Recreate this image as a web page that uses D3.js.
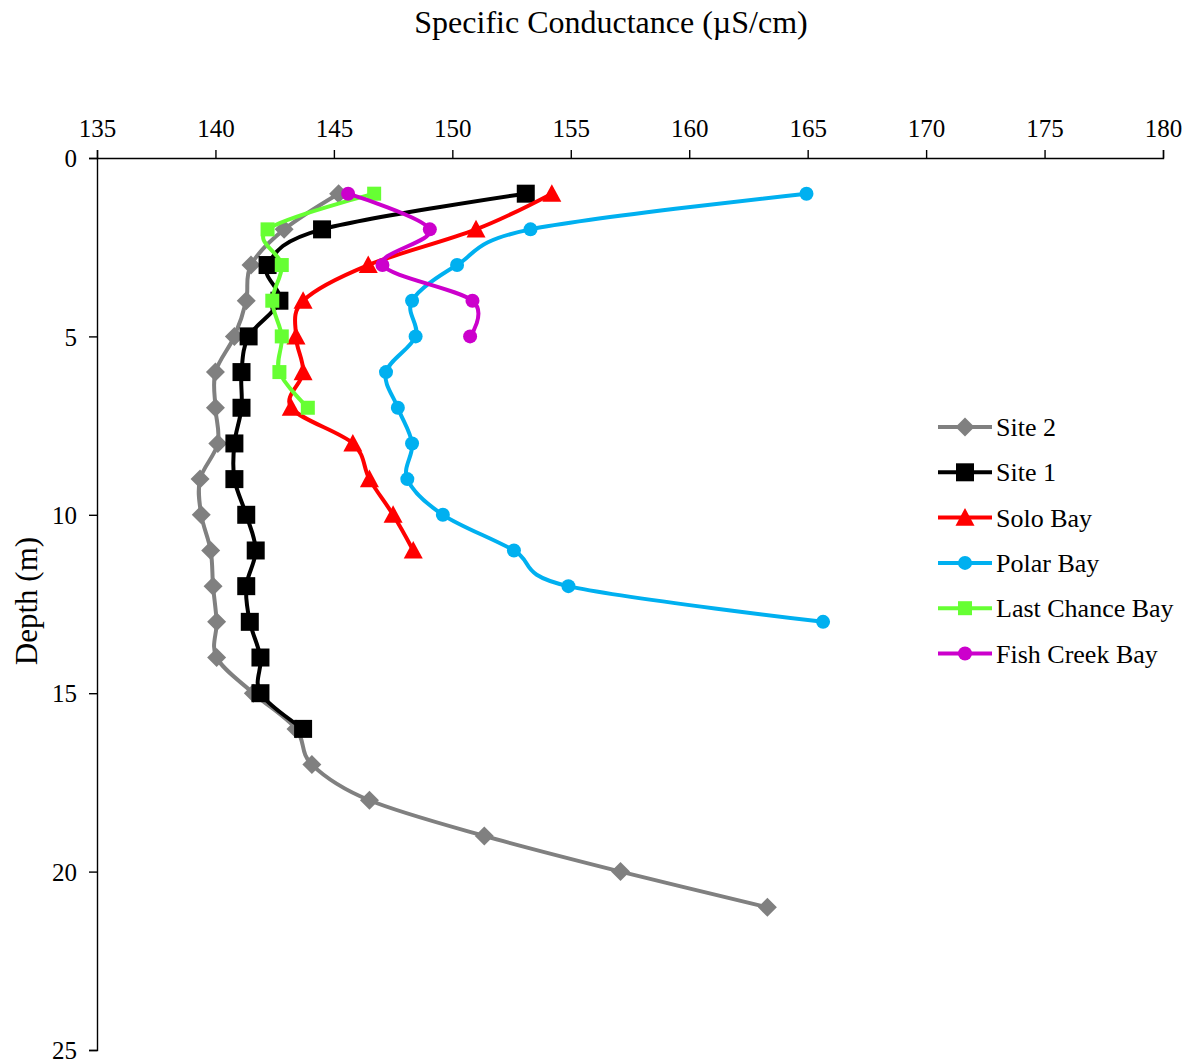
<!DOCTYPE html>
<html>
<head>
<meta charset="utf-8">
<script src="https://cdn.jsdelivr.net/npm/d3@7"></script>
<style>
  html, body { margin: 0; padding: 0; background: #fff; }
  svg { display: block; }
  text { font-family: "Liberation Serif", "Times New Roman", serif; fill: #000; }
</style>
</head>
<body>
<svg id="chart" width="1194" height="1064"></svg>
<script>
// Specific conductance profiles (µS/cm) by depth (m)
const xTicks = [135, 140, 145, 150, 155, 160, 165, 170, 175, 180];
const yTicks = [0, 5, 10, 15, 20, 25];

const site2Depth = [1, 2, 3, 4, 5, 6, 7, 8, 9, 10, 11, 12, 13, 14, 15, 16, 17, 18, 19, 20, 21];
const site2Cond  = [145.2, 142.9, 141.5, 141.3, 140.8, 140.0, 140.0, 140.1, 139.35, 139.4, 139.8, 139.9, 140.05, 140.05, 141.6, 143.4, 144.07, 146.5, 151.35, 157.1, 163.3];

const site1Depth = [1, 2, 3, 4, 5, 6, 7, 8, 9, 10, 11, 12, 13, 14, 15, 16];
const site1Cond  = [153.1, 144.5, 142.2, 142.7, 141.4, 141.1, 141.1, 140.8, 140.8, 141.3, 141.7, 141.3, 141.45, 141.9, 141.9, 143.7];

const soloDepth = [1, 2, 3, 4, 5, 6, 7, 8, 9, 10, 11];
const soloCond  = [154.2, 151.0, 146.45, 143.7, 143.4, 143.7, 143.2, 145.8, 146.5, 147.5, 148.35];

const polarDepth = [1, 2, 3, 4, 5, 6, 7, 8, 9, 10, 11, 12, 13];
const polarCond  = [164.95, 153.3, 150.2, 148.3, 148.45, 147.2, 147.7, 148.3, 148.1, 149.6, 152.6, 154.9, 165.65];

const lastChanceDepth = [1, 2, 3, 4, 5, 6, 7];
const lastChanceCond  = [146.7, 142.2, 142.8, 142.4, 142.8, 142.7, 143.9];

const fishCreekDepth = [1, 2, 3, 4, 5];
const fishCreekCond  = [145.6, 149.05, 147.05, 150.85, 150.75];

const seriesNames = ["Site 2", "Site 1", "Solo Bay", "Polar Bay", "Last Chance Bay", "Fish Creek Bay"];

const series = [
  { name: seriesNames[0], depth: site2Depth, cond: site2Cond, color: "#808080", marker: "diamond", size: 19 },
  { name: seriesNames[1], depth: site1Depth, cond: site1Cond, color: "#000000", marker: "square", size: 18 },
  { name: seriesNames[2], depth: soloDepth, cond: soloCond, color: "#FF0000", marker: "triangle", size: 19 },
  { name: seriesNames[3], depth: polarDepth, cond: polarCond, color: "#00B0F0", marker: "circle", size: 14 },
  { name: seriesNames[4], depth: lastChanceDepth, cond: lastChanceCond, color: "#66FF33", marker: "square", size: 14 },
  { name: seriesNames[5], depth: fishCreekDepth, cond: fishCreekCond, color: "#CC00CC", marker: "circle", size: 14 }
];

const svg = d3.select("#chart");
const plot = { left: 97, right: 1163, top: 158, bottom: 1050 };

const x = d3.scaleLinear().domain([135, 180]).range([plot.left, plot.right]);
const y = d3.scaleLinear().domain([0, 25]).range([plot.top, plot.bottom]);

// Axes: conductance along the top, depth increasing downward
const xAxis = svg.append("g")
  .attr("transform", `translate(0,${plot.top})`)
  .call(d3.axisTop(x).tickValues(xTicks).tickSize(8).tickPadding(13).tickFormat(d3.format("d")));
const yAxis = svg.append("g")
  .attr("transform", `translate(${plot.left},0)`)
  .call(d3.axisLeft(y).tickValues(yTicks).tickSize(8).tickPadding(12).tickFormat(d3.format("d")));

[xAxis, yAxis].forEach(g => {
  g.select(".domain").attr("stroke", "#000").attr("stroke-width", 1.4);
  g.selectAll(".tick line").attr("stroke", "#000").attr("stroke-width", 1.4);
  g.selectAll(".tick text")
    .style("font-family", "'Liberation Serif', 'Times New Roman', serif")
    .style("font-size", "25px").attr("fill", "#000");
});
yAxis.selectAll(".tick text").attr("dy", "0.35em");

// Axis titles
svg.append("text")
  .attr("x", 611).attr("y", 33)
  .attr("text-anchor", "middle")
  .style("font-size", "32px")
  .text("Specific Conductance  (µS/cm)");

svg.append("text")
  .attr("transform", "translate(37,601) rotate(-90)")
  .attr("text-anchor", "middle")
  .style("font-size", "31px")
  .text("Depth (m)");

// Marker shapes
function markerPath(type, size) {
  const h = size / 2;
  switch (type) {
    case "diamond": return `M0,${-h}L${h},0L0,${h}L${-h},0Z`;
    case "square": return `M${-h},${-h}H${h}V${h}H${-h}Z`;
    case "triangle": return `M0,${-h}L${h},${h * 0.85}H${-h}Z`;
    default: return d3.symbol().type(d3.symbolCircle).size(Math.PI * h * h)();
  }
}

const line = d3.line()
  .x(d => x(d.c))
  .y(d => y(d.d))
  .curve(d3.curveCatmullRom.alpha(0));

const plotG = svg.append("g");
series.forEach(s => {
  const pts = s.depth.map((d, i) => ({ d, c: s.cond[i] }));
  const g = plotG.append("g");
  g.append("path")
    .datum(pts)
    .attr("d", line)
    .attr("fill", "none")
    .attr("stroke", s.color)
    .attr("stroke-width", 4)
    .attr("stroke-linejoin", "round");
  g.selectAll("path.mk")
    .data(pts)
    .join("path")
    .attr("class", "mk")
    .attr("transform", d => `translate(${x(d.c)},${y(d.d)})`)
    .attr("d", markerPath(s.marker, s.size))
    .attr("fill", s.color);
});

// Legend
const legend = svg.append("g").attr("transform", "translate(938,427)");
series.forEach((s, i) => {
  const row = legend.append("g").attr("transform", `translate(0,${i * 45.3})`);
  row.append("line")
    .attr("x1", 0).attr("x2", 54).attr("y1", 0).attr("y2", 0)
    .attr("stroke", s.color).attr("stroke-width", 4);
  row.append("path")
    .attr("transform", "translate(27,0)")
    .attr("d", markerPath(s.marker, s.size))
    .attr("fill", s.color);
  row.append("text")
    .attr("x", 58).attr("y", 0).attr("dy", "0.35em")
    .style("font-size", "26px")
    .text(s.name);
});
</script>
</body>
</html>
